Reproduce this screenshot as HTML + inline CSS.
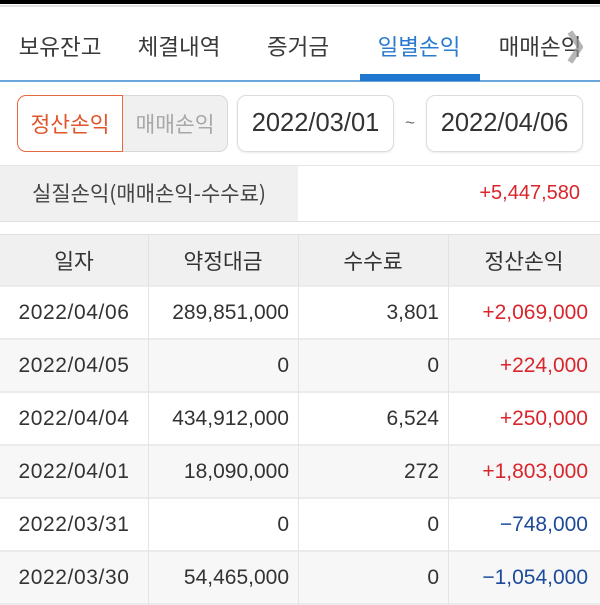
<!DOCTYPE html>
<html><head><meta charset="utf-8">
<style>
*{box-sizing:border-box;margin:0;padding:0}
body{width:600px;height:600px;overflow:hidden;background:#fff;position:relative;font-family:"Liberation Sans","Noto Sans CJK KR",sans-serif;color:#333}
.a{position:absolute}
.tab{position:absolute;top:27px;height:38px;line-height:38px;font-size:22.5px;color:#3a3a3a;font-family:"Noto Sans CJK KR",sans-serif;transform:translateX(-50%);white-space:nowrap}
.k{font-family:"Noto Sans CJK KR",sans-serif}
.row{position:absolute;left:0;width:600px;height:53px;border-bottom:2px solid #ebebeb}
.c{position:absolute;top:0;height:51px;line-height:51px;font-size:21px;white-space:nowrap}
.c0{left:0;width:148px;text-align:center;letter-spacing:0.6px}
.c1{left:148px;width:150px;text-align:right;padding-right:9px}
.c2{left:298px;width:150px;text-align:right;padding-right:9px}
.c3{left:448px;width:152px;text-align:right;padding-right:12px}
.vl{position:absolute;top:0;width:1px;height:53px;background:#e4e4e4}
.red{color:#d9262c}
.blue{color:#1d4b9b}
</style></head><body>
<div class="a" style="left:0;top:0;width:600px;height:4px;background:#000"></div>
<div class="a" style="left:0;top:5px;width:600px;height:2px;background:#e2e2e2"></div>

<div class="tab" style="left:60px">보유잔고</div>
<div class="tab" style="left:179px">체결내역</div>
<div class="tab" style="left:298px">증거금</div>
<div class="tab" style="left:419px;color:#2a7bd0">일별손익</div>
<div class="tab" style="left:540px">매매손익</div>
<svg class="a" style="left:562px;top:28px" width="24" height="38"><polyline points="8,4 18,19 8,34" fill="none" stroke="rgba(150,150,150,0.7)" stroke-width="6" stroke-linejoin="round"/></svg>
<div class="a" style="left:0;top:80px;width:600px;height:2px;background:#6aa6dc"></div>
<div class="a" style="left:360px;top:74px;width:120px;height:7px;background:#1f77d0"></div>

<!-- segment -->
<div class="a" style="left:108px;top:95px;width:120px;height:57px;background:#f0f0f0;border:1.5px solid #d8d8d8;border-radius:0 9px 9px 0"></div>
<div class="a" style="left:17px;top:95px;width:106px;height:57px;background:#fff;border:1.5px solid #e8693f;border-radius:9px 0 0 9px"></div>
<div class="a k" style="left:17px;top:95px;width:106px;height:57px;line-height:57px;text-align:center;font-size:21.5px;color:#e0552a">정산손익</div>
<div class="a k" style="left:122px;top:95px;width:106px;height:57px;line-height:57px;text-align:center;font-size:21.5px;color:#a8a8a8">매매손익</div>

<div class="a" style="left:237px;top:95px;width:157px;height:57px;border:1.5px solid #dcdcdc;border-radius:9px;box-shadow:0 1px 2px rgba(0,0,0,0.08);line-height:54px;text-align:center;font-size:25.5px;color:#333">2022/03/01</div>
<div class="a" style="left:402px;top:113px;width:16px;text-align:center;font-size:17px;color:#666">~</div>
<div class="a" style="left:426px;top:95px;width:157px;height:57px;border:1.5px solid #dcdcdc;border-radius:9px;box-shadow:0 1px 2px rgba(0,0,0,0.08);line-height:54px;text-align:center;font-size:25.5px;color:#333">2022/04/06</div>

<!-- summary -->
<div class="a" style="left:0;top:165px;width:600px;height:57px;border-top:1px solid #e6e6e6;border-bottom:1px solid #e0e0e0"></div>
<div class="a" style="left:0;top:166px;width:298px;height:55px;background:#f0f0f0"></div>
<div class="a k" style="left:32px;top:166px;height:55px;line-height:55px;font-size:21px;color:#444;white-space:nowrap">실질손익(매매손익-수수료)</div>
<div class="a red" style="right:20px;top:166px;height:55px;line-height:55px;font-size:20px">+5,447,580</div>

<!-- table -->
<div class="a" style="left:0;top:234px;width:600px;height:1px;background:#e0e0e0"></div>
<div class="row" style="top:235px;height:52px;background:#f0f0f0">
 <div class="c k" style="left:0;width:148px;text-align:center;font-size:21.5px">일자</div>
 <div class="c k" style="left:148px;width:150px;text-align:center;font-size:21.5px">약정대금</div>
 <div class="c k" style="left:298px;width:150px;text-align:center;font-size:21.5px">수수료</div>
 <div class="c k" style="left:448px;width:152px;text-align:center;font-size:21.5px">정산손익</div>
 <div class="vl" style="left:148px;background:#e2e2e2"></div><div class="vl" style="left:298px;background:#e2e2e2"></div><div class="vl" style="left:448px;background:#e2e2e2"></div>
</div>
<div class="row" style="top:287px;background:#fff">
 <div class="c c0">2022/04/06</div><div class="c c1">289,851,000</div><div class="c c2">3,801</div><div class="c c3 red">+2,069,000</div>
 <div class="vl" style="left:148px"></div><div class="vl" style="left:298px"></div><div class="vl" style="left:448px"></div>
</div>
<div class="row" style="top:340px;background:#f7f7f7">
 <div class="c c0">2022/04/05</div><div class="c c1">0</div><div class="c c2">0</div><div class="c c3 red">+224,000</div>
 <div class="vl" style="left:148px"></div><div class="vl" style="left:298px"></div><div class="vl" style="left:448px"></div>
</div>
<div class="row" style="top:393px;background:#fff">
 <div class="c c0">2022/04/04</div><div class="c c1">434,912,000</div><div class="c c2">6,524</div><div class="c c3 red">+250,000</div>
 <div class="vl" style="left:148px"></div><div class="vl" style="left:298px"></div><div class="vl" style="left:448px"></div>
</div>
<div class="row" style="top:446px;background:#f7f7f7">
 <div class="c c0">2022/04/01</div><div class="c c1">18,090,000</div><div class="c c2">272</div><div class="c c3 red">+1,803,000</div>
 <div class="vl" style="left:148px"></div><div class="vl" style="left:298px"></div><div class="vl" style="left:448px"></div>
</div>
<div class="row" style="top:499px;background:#fff">
 <div class="c c0">2022/03/31</div><div class="c c1">0</div><div class="c c2">0</div><div class="c c3 blue">−748,000</div>
 <div class="vl" style="left:148px"></div><div class="vl" style="left:298px"></div><div class="vl" style="left:448px"></div>
</div>
<div class="row" style="top:552px;background:#f7f7f7">
 <div class="c c0">2022/03/30</div><div class="c c1">54,465,000</div><div class="c c2">0</div><div class="c c3 blue">−1,054,000</div>
 <div class="vl" style="left:148px"></div><div class="vl" style="left:298px"></div><div class="vl" style="left:448px"></div>
</div>
</body></html>
